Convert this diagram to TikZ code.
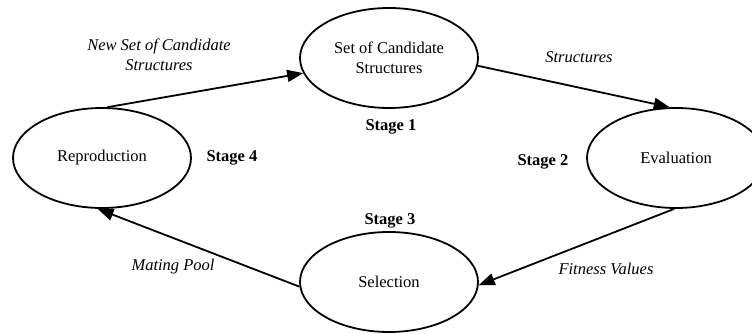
\documentclass[tikz,border=0pt]{standalone}
\usepackage{fontspec}
\setmainfont{Liberation Serif}
\usetikzlibrary{shapes.geometric,arrows.meta}
\begin{document}
\begin{tikzpicture}[x=1pt,y=-1pt,
  every node/.style={font=\fontsize{16.5}{19.5}\selectfont, align=center, inner sep=0pt},
  stagebox/.style={ellipse, draw, line width=1.8pt, minimum width=178pt, minimum height=100pt},
  flow/.style={line width=1.8pt, -{Triangle[length=16pt,width=12pt]}},
  lbl/.style={font=\fontsize{16.5}{19.5}\selectfont\itshape},
  stg/.style={font=\fontsize{16.5}{19.5}\selectfont\bfseries}]
\useasboundingbox (0,0) rectangle (752,334);
\clip (0,0) rectangle (752,334);
\node[stagebox] (top) at (389,58) {Set of Candidate\\Structures};
\node[stagebox] (eval) at (676,158) {Evaluation};
\node[stagebox] (sel) at (389,282) {Selection};
\node[stagebox] (repro) at (102,158) {Reproduction};
\draw[flow] (repro.84) -- (top.190);
\draw[flow] (top.355) -- (eval.97);
\draw[flow] (eval.268) -- (sel.358);
\draw[flow] (sel.183) -- (repro.265);
\node[lbl] (l1) at (159,55) {New Set of Candidate\\Structures};
\node[lbl] (l2) at (579,57) {Structures};
\node[lbl] (l3) at (606,269) {Fitness Values};
\node[lbl] (l4) at (173,267) {Mating Pool};
\node[stg] (s1) at (391,127) {Stage 1};
\node[stg] (s2) at (543,162) {Stage 2};
\node[stg] (s3) at (390,221) {Stage 3};
\node[stg] (s4) at (232,158) {Stage 4};
\end{tikzpicture}
\end{document}
